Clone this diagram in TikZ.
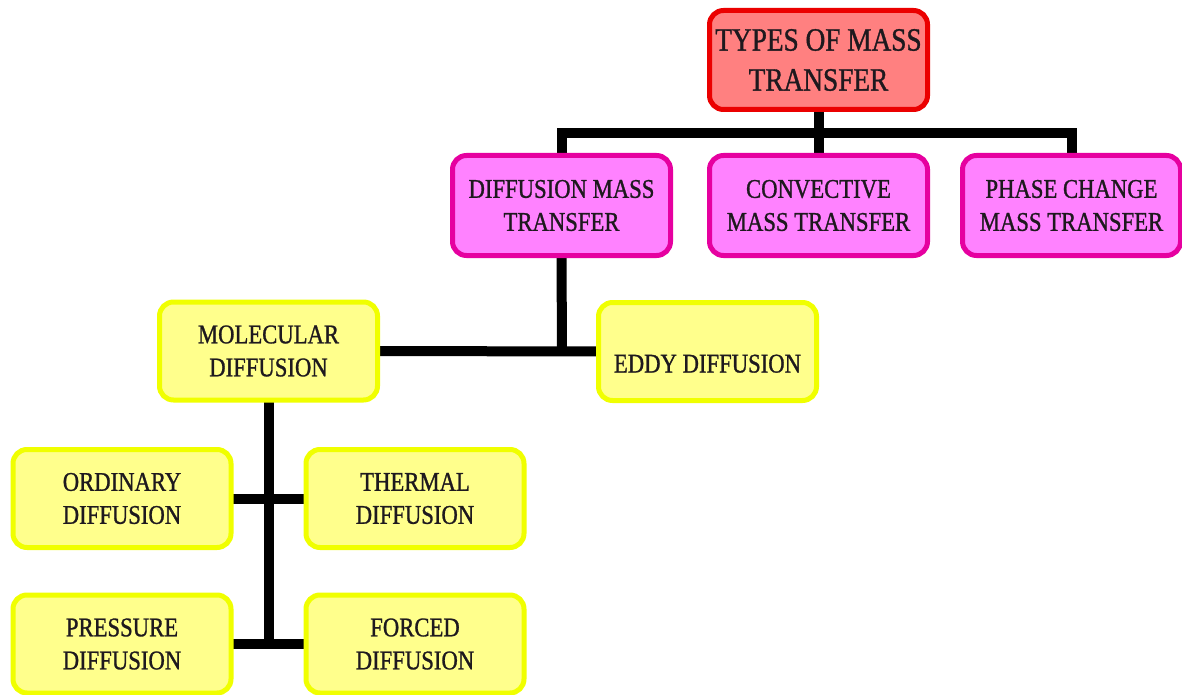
\documentclass[tikz,border=0pt]{standalone}
\usepackage{fontspec}
\newfontfamily\lab[FakeStretch=0.84,FakeBold=1]{Liberation Serif}
\usetikzlibrary{backgrounds}
\definecolor{topfill}{RGB}{255,128,128}
\definecolor{topdraw}{RGB}{235,0,0}
\definecolor{magfill}{RGB}{255,130,255}
\definecolor{magdraw}{RGB}{230,0,160}
\definecolor{yelfill}{RGB}{255,255,140}
\definecolor{yeldraw}{RGB}{240,255,0}
\definecolor{txt}{RGB}{30,25,30}
\tikzset{
  box/.style={rounded corners=14pt, line width=5pt, minimum width=218pt, minimum height=98pt,
    align=center, inner sep=0pt, outer sep=0pt, text=txt, font=\lab\fontsize{27}{33}\selectfont},
  topbox/.style={box, fill=topfill, draw=topdraw, minimum height=99pt, font=\lab\fontsize{32.5}{40}\selectfont},
  magbox/.style={box, fill=magfill, draw=magdraw, minimum height=100pt},
  yelbox/.style={box, fill=yelfill, draw=yeldraw},
  conn/.style={line width=10pt, line join=miter, draw=black}
}
\begin{document}
\begin{tikzpicture}[x=1pt,y=-1pt]
\useasboundingbox (0,0) rectangle (1182,695);
\node[topbox] (top) at (818.5,60) {TYPES OF MASS\\TRANSFER};
\node[magbox] (dmt) at (561.5,205.5) {DIFFUSION MASS\\TRANSFER};
\node[magbox] (cmt) at (818.5,205.5) {CONVECTIVE\\MASS TRANSFER};
\node[magbox] (pmt) at (1071.5,205.5) {PHASE CHANGE\\MASS TRANSFER};
\node[yelbox] (mol) at (268.5,351) {MOLECULAR\\DIFFUSION};
\node[yelbox] (eddy) at (707.5,351.5) {\raisebox{-21pt}[0pt][0pt]{EDDY DIFFUSION}};
\node[yelbox] (ord) at (122,498.5) {ORDINARY\\DIFFUSION};
\node[yelbox] (the) at (415,498.5) {THERMAL\\DIFFUSION};
\node[yelbox] (pre) at (122,644) {PRESSURE\\DIFFUSION};
\node[yelbox] (for) at (415,644) {FORCED\\DIFFUSION};
\coordinate (bus) at (818.5,133);
\coordinate (dbus) at (562,352);
\coordinate (mend) at (268.5,649);
\begin{pgfonlayer}{background}
\fill[white] (0,0) rectangle (1182,695);
\draw[conn] (top.south) -- (cmt.north);
\draw[conn] (dmt.north) -- (dmt.north |- bus) -- (pmt.north |- bus) -- (pmt.north);
\draw[conn] (dmt.south) -- (dbus);
\draw[conn] (mol.east) -- (eddy.west);
\draw[conn] (mol.south) -- (mend);
\draw[conn] (ord.east) -- (the.west);
\draw[conn] (pre.east) -- (for.west);
\end{pgfonlayer}
\end{tikzpicture}
\end{document}
